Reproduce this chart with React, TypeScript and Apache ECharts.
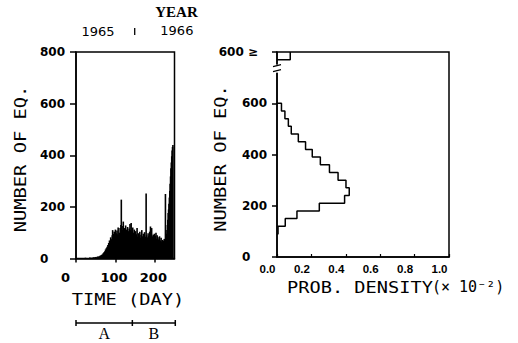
import React, { useEffect, useRef } from 'react';
import * as echarts from 'echarts';

// ---- Left panel: daily number of earthquakes (day 0 .. 246)
const dailyCounts: number[] = [
  0, 0, 1, 0, 0, 0, 2, 0, 0, 1,
  0, 0, 0, 1, 0, 0, 0, 2, 0, 0,
  1, 0, 0, 0, 3, 0, 1, 0, 0, 2,
  0, 1, 0, 2, 0, 4, 1, 0, 3, 2,
  1, 3, 0, 2, 5, 2, 1, 4, 3, 6,
  2, 5, 4, 3, 7, 5, 8, 4, 6, 9,
  5, 8, 12, 7, 10, 14, 9, 16, 12, 20,
  15, 24, 18, 28, 22, 35, 26, 40, 30, 46,
  38, 52, 34, 60, 45, 70, 55, 48, 82, 62,
  75, 58, 90, 110, 68, 95, 80, 104, 72, 88,
  112, 76, 98, 84, 108, 66, 94, 120, 78, 90,
  100, 74, 118, 86, 130, 228, 92, 110, 80, 126,
  143, 96, 84, 118, 102, 76, 128, 90, 112, 84,
  98, 122, 70, 106, 88, 116, 80, 134, 96, 110,
  138, 92, 104, 78, 120, 86, 100, 74, 112, 90,
  82, 106, 68, 94, 76, 118, 84, 62, 98, 72,
  88, 66, 104, 80, 60, 92, 74, 110, 70, 86,
  64, 96, 78, 58, 102, 72, 84, 66, 252, 90,
  70, 82, 60, 98, 76, 88, 64, 104, 80, 124,
  72, 94, 118, 66, 86, 60, 92, 74, 84, 96,
  68, 88, 62, 100, 76, 58, 90, 70, 82, 64,
  74, 56, 86, 62, 70, 52, 80, 60, 66, 58,
  72, 54, 68, 62, 76, 58, 64, 250, 70, 82,
  96, 110, 130, 150, 176, 190, 212, 236, 262, 290,
  318, 350, 372, 396, 418, 432, 440,
];
const dayTicks = [0, 100, 200];
const years = ['1965', '1966'];
const yearLabelDays = [56, 256];
const yearBoundaryDay = 149;
const periodNames = ['A', 'B'];
const periodBounds = [0, 143, 252];

// ---- Right panel: probability density of daily numbers (bins of 30)
const binLows = [90, 120, 150, 180, 210, 240, 270, 300, 330, 360, 390, 420, 450, 480, 510, 540, 570];
const binDensity = [0.006, 0.048, 0.116, 0.246, 0.393, 0.42, 0.401, 0.355, 0.305, 0.252, 0.205, 0.166, 0.124, 0.083, 0.066, 0.046, 0.026];
const binWidth = 30;
const overflowBin = [770, 800]; // the "600 ≥" class, drawn at the top of the axis
const overflowDensity = 0.077;
const breakValue = 735;
const countTicks = [0, 200, 400, 600, 800];

const NUM_FONT = 'DejaVu Sans';
const MONO = 'DejaVu Sans Mono';

export default function App() {
  const ref = useRef<HTMLDivElement>(null);
  useEffect(() => {
    document.body.style.margin = '0';
    const chart = echarts.init(ref.current!, null, { renderer: 'svg' });

    const barData = dailyCounts.map((v, i) => [i, v]);
    const stair: number[][] = [[0, binLows[0]]];
    binLows.forEach((lo, i) => {
      stair.push([binDensity[i], lo]);
      stair.push([binDensity[i], lo + binWidth]);
    });
    stair.push([0, binLows[binLows.length - 1] + binWidth]);
    const topBox = [
      [0, overflowBin[0]],
      [overflowDensity, overflowBin[0]],
      [overflowDensity, overflowBin[1]],
    ];

    const black = '#000';
    const axisLine = { show: true, lineStyle: { color: black, width: 1.5 } };

    chart.setOption({
      animation: false,
      backgroundColor: '#fff',
      grid: [
        { left: 76, top: 52, width: 98.5, height: 206.5, show: true, borderColor: black, borderWidth: 1.5, backgroundColor: 'transparent', outerBoundsMode: 'none' },
        { left: 277, top: 52, width: 172, height: 205, show: true, borderColor: black, borderWidth: 1.5, backgroundColor: 'transparent', outerBoundsMode: 'none' },
      ],
      xAxis: [
        {
          type: 'value', gridIndex: 0, min: 0, max: 250, interval: 100,
          axisLine, splitLine: { show: false },
          axisTick: { show: true, inside: false, length: 4, customValues: dayTicks, lineStyle: { color: black, width: 1.5 } },
          axisLabel: {
            customValues: dayTicks, margin: 12,
            formatter: (v: number) => (v > 200 ? '' : `{t|${v}}`),
            rich: { t: { width: 30, align: 'left', fontFamily: NUM_FONT, fontWeight: 'bold', fontSize: 13, color: black } },
          },
        },
        {
          type: 'value', gridIndex: 1, min: 0, max: 1, interval: 0.2,
          axisLine, splitLine: { show: false },
          axisTick: { show: true, inside: true, length: 3, lineStyle: { color: black, width: 1.2 } },
          axisLabel: {
            margin: 6,
            formatter: (v: number) => `{t|${v.toFixed(1)}}`,
            rich: { t: { width: 35, align: 'left', fontFamily: 'Liberation Sans', fontWeight: 'bold', fontSize: 11.5, color: black } },
          },
        },
      ],
      yAxis: [
        {
          type: 'value', gridIndex: 0, min: 0, max: 800, interval: 200,
          axisLine, splitLine: { show: false },
          axisTick: { show: true, inside: false, length: 6, lineStyle: { color: black, width: 1.5 } },
          axisLabel: {
            margin: 11,
            formatter: (v: number) => `{t|${v}}`,
            rich: { t: { width: 25, align: 'left', fontFamily: NUM_FONT, fontWeight: 'bold', fontSize: 12, color: black } },
          },
        },
        {
          type: 'value', gridIndex: 1, min: 0, max: 800, interval: 200,
          axisLine, splitLine: { show: false },
          axisTick: { show: true, inside: false, length: 5, lineStyle: { color: black, width: 1.5 } },
          axisLabel: {
            margin: 10,
            formatter: (v: number) => (v === countTicks[4] ? '{g|600 ≥}' : `{t|${v}}`),
            rich: {
              t: { width: 25, align: 'left', fontFamily: NUM_FONT, fontWeight: 'bold', fontSize: 12, color: black },
              g: { align: 'right', padding: [0, 9, 0, 0], fontFamily: NUM_FONT, fontWeight: 'bold', fontSize: 12, color: black },
            },
          },
        },
      ],
      series: [
        {
          type: 'bar', xAxisIndex: 0, yAxisIndex: 0, data: barData,
          barWidth: 1.6, itemStyle: { color: black }, silent: true,
        },
        {
          type: 'line', xAxisIndex: 1, yAxisIndex: 1, data: stair,
          symbol: 'none', lineStyle: { color: black, width: 1.5 }, silent: true,
        },
        {
          type: 'line', xAxisIndex: 1, yAxisIndex: 1, data: topBox,
          symbol: 'none', lineStyle: { color: black, width: 1.5 }, silent: true,
        },
      ],
    });

    const px0 = (d: number, v = 0) => chart.convertToPixel({ gridIndex: 0 }, [d, v]) as number[];
    const px1 = (d: number, v: number) => chart.convertToPixel({ gridIndex: 1 }, [d, v]) as number[];

    const txt = (text: string, x: number, y: number, font: string, extra: any = {}) => ({
      type: 'text', x, y, z: 100, ...extra,
      style: { text, font, fill: black, align: 'center', verticalAlign: 'middle', textAlign: 'center', textVerticalAlign: 'middle' },
    });

    const graphics: any[] = [];
    // year annotations
    graphics.push(txt('YEAR', px0(255)[0], 12, 'bold 15px "Liberation Serif"'));
    years.forEach((y, i) => graphics.push(txt(y, px0(yearLabelDays[i])[0], 31 - i, `13px "${NUM_FONT}"`)));
    const yb = px0(yearBoundaryDay)[0];
    graphics.push({ type: 'line', z: 100, shape: { x1: yb, y1: 28, x2: yb, y2: 35 }, style: { stroke: black, lineWidth: 1.3 } });

    // axis titles
    graphics.push(txt('TIME (DAY)', 128, 299, `16px "${MONO}"`, { scaleX: 1.17 }));
    graphics.push(txt('NUMBER OF EQ.', 20, 159, `16px "${MONO}"`, { scaleX: 1.17, rotation: Math.PI / 2 }));
    graphics.push(txt('NUMBER OF EQ.', 220, 158.5, `16px "${MONO}"`, { scaleX: 1.17, rotation: Math.PI / 2 }));
    graphics.push({
      type: 'text', x: 287, y: 287, z: 100, scaleX: 1.166,
      style: { text: 'PROB. DENSITY', font: `16px "${MONO}"`, fill: black, align: 'left', verticalAlign: 'middle', textAlign: 'left', textVerticalAlign: 'middle' },
    });
    graphics.push({
      type: 'text', x: 432, y: 287, z: 100,
      style: { text: '(× 10⁻²)', font: `15px "${MONO}"`, fill: black, align: 'left', verticalAlign: 'middle', textAlign: 'left', textVerticalAlign: 'middle' },
    });

    // A / B period bracket
    const by = 323;
    const bx = periodBounds.map((d) => px0(d)[0]);
    graphics.push({ type: 'line', z: 100, shape: { x1: bx[0], y1: by, x2: bx[bx.length - 1], y2: by }, style: { stroke: black, lineWidth: 1.5 } });
    bx.forEach((x) => graphics.push({ type: 'line', z: 100, shape: { x1: x, y1: by - 3, x2: x, y2: by + 3 }, style: { stroke: black, lineWidth: 1.5 } }));
    periodNames.forEach((n, i) => graphics.push(txt(n, (bx[i] + bx[i + 1]) / 2, 333, '16px "Liberation Serif"')));

    // axis break on right panel
    const bp = px1(0, breakValue);
    graphics.push({ type: 'rect', z: 100, shape: { x: bp[0] - 3, y: bp[1] - 4, width: 6, height: 8 }, style: { fill: '#fff' } });
    graphics.push({ type: 'line', z: 101, shape: { x1: bp[0] - 4, y1: bp[1] - 2, x2: bp[0] + 4, y2: bp[1] - 4 }, style: { stroke: black, lineWidth: 1.2 } });
    graphics.push({ type: 'line', z: 101, shape: { x1: bp[0] - 4, y1: bp[1] + 3, x2: bp[0] + 4, y2: bp[1] + 1 }, style: { stroke: black, lineWidth: 1.2 } });

    chart.setOption({ graphic: graphics });

    return () => chart.dispose();
  }, []);
  return <div ref={ref} style={{ width: 518, height: 343 }} />;
}
